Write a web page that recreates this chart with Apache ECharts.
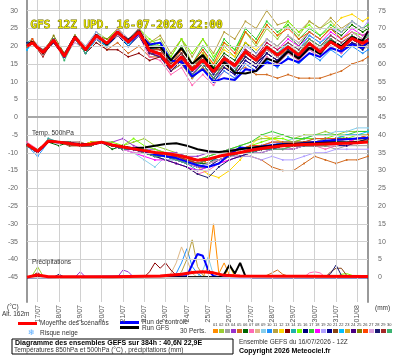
<!DOCTYPE html>
<html>
<head>
<meta charset="utf-8">
<script src="https://cdn.jsdelivr.net/npm/echarts@6/dist/echarts.min.js"></script>
<style>
html, body { margin: 0; padding: 0; background: #fff; }
#chart { width: 395px; height: 355px; }
</style>
</head>
<body>
<div id="chart"></div>
<script>
// echeances (heures depuis le run 12Z du 16/07)
const H850 = [0,6,18,30,42,54,66,78,90,102,114,126,138,150,162,174,186,198,210,222,234,246,258,270,282,294,306,318,330,342,354,366,378,384];
const H500 = [0,12,24,36,48,60,72,84,96,108,120,132,144,156,168,180,192,204,216,228,240,252,264,276,288,300,312,324,336,348,360,372,384];
const DAY_HOURS = [12,36,60,84,108,132,156,180,204,228,252,276,300,324,348,372];
const DAY_LABELS = ['17/07','18/07','19/07','20/07','21/07','22/07','23/07','24/07','25/07','26/07','27/07','28/07','29/07','30/07','31/07','01/08'];
const LEFT_TICKS = [-45,-40,-35,-30,-25,-20,-15,-10,-5,0,5,10,15,20,25,30];
const RIGHT_TICKS = [0,5,10,15,20,25,30,35,40,45,50,55,60,65,70,75];

// temperature 850hPa
const T850_MEAN = [20.0,21.0,18.2,21.7,17.2,22.5,19.0,23.0,20.8,24.0,21.2,24.0,18.8,17.8,14.0,17.0,13.3,16.1,12.8,16.5,14.5,18.4,16.0,19.8,17.5,19.8,17.5,20.8,18.4,21.2,19.4,22.2,20.8,21.7];
const T850_CTRL = [20.0,21.0,18.3,21.8,17.0,22.3,19.2,23.0,20.6,24.2,21.0,23.5,20.5,21.0,16.0,15.5,11.5,13.5,10.0,11.0,10.5,13.5,13.0,15.5,14.5,16.5,15.5,18.0,17.0,19.5,18.5,20.5,19.5,22.0];
const T850_GFS = [20.2,21.3,18.0,21.5,17.4,22.8,18.8,23.2,20.5,23.8,21.5,24.3,19.5,19.8,16.0,19.5,15.0,17.5,13.5,15.5,12.5,12.3,13.0,16.5,15.5,18.5,16.5,19.5,17.8,21.5,20.0,22.6,21.5,24.2];
const T850_PERTS = [
  [20,21,18,22,17,23,19,23,21,24,21,25,20,19,15,17,13,16,12,15,13,17,15,18,16,19,16,20,18,21,19,22,20,21],
  [20,21,19,22,18,23,20,24,22,25,22,25,21,22,17,22,15,19,14,20,17,24,20,25,22,26,23,27,25,27,24,26,24,25],
  [20,21,18,21,17,22,18,22,20,23,20,23,18,17,13,16,12,14,11,14,12,16,14,17,15,18,16,19,17,20,18,21,19,20],
  [20,21,18,22,17,22,19,23,21,25,22,25,19,18,14,17,13,15,11,14,12,16,14,18,16,19,17,20,18,21,19,22,21,22],
  [20,21,18,22,17,22,18,22,19,21,18,20,17,17,14,17,13,15,13,14,13,14,12,12,11,12,11,11,11,12,13,15,16,17],
  [20,21,18,22,18,23,19,23,21,24,22,24,20,20,16,19,15,18,14,18,16,21,18,22,20,23,20,24,22,25,23,26,24,25],
  [20,21,18,21,17,22,19,23,20,23,20,23,17,16,12,14,9,12,9,13,11,15,13,17,15,18,16,19,17,20,18,21,20,21],
  [20,22,18,22,17,23,19,23,21,24,21,24,19,18,14,18,14,17,13,17,15,19,17,20,18,21,18,22,19,22,20,23,21,22],
  [20,21,18,22,17,22,19,23,21,24,21,23,19,20,14,16,12,15,11,15,13,17,15,19,17,21,19,22,20,23,21,24,22,24],
  [19,21,18,21,17,22,18,22,20,23,20,23,18,17,13,15,11,14,10,13,11,15,13,16,14,17,15,18,16,19,17,20,18,19],
  [20,21,18,22,17,23,19,23,21,25,22,25,21,23,18,22,17,22,18,24,22,27,25,30,26,27,24,27,25,28,25,27,25,26],
  [20,21,18,22,17,22,19,23,21,24,21,24,19,18,15,18,14,18,15,19,17,21,19,22,20,23,21,24,22,25,28,29,27,28],
  [20,21,18,21,17,22,18,21,19,19,17,18,16,17,14,17,13,16,13,16,14,18,16,19,17,19,17,20,18,21,19,22,20,21],
  [21,22,18,22,18,23,19,24,21,24,21,24,19,18,14,17,13,16,12,16,14,18,16,20,17,20,18,21,19,21,19,22,21,22],
  [20,21,18,22,17,23,19,23,21,24,22,25,22,20,17,22,18,22,17,21,19,24,21,26,23,27,24,26,23,25,22,24,23,24],
  [20,21,18,22,17,22,19,22,20,23,20,23,18,18,13,16,12,15,11,15,13,17,15,18,16,19,17,20,18,21,19,22,20,21],
  [20,21,18,22,17,22,19,23,21,24,21,24,20,21,16,20,15,20,16,22,19,25,22,27,24,26,22,25,23,26,24,27,25,26],
  [20,21,18,22,17,22,19,23,21,24,22,24,19,17,14,17,12,16,12,17,15,19,17,21,19,22,20,23,21,24,22,25,23,24],
  [20,22,19,22,18,23,20,24,21,25,22,25,20,19,15,18,14,17,13,17,15,20,18,22,20,23,21,24,22,25,24,27,25,27],
  [20,21,18,22,17,22,19,23,20,24,21,24,18,17,13,15,11,14,10,14,12,16,14,18,16,19,17,20,18,21,19,21,19,21],
  [20,21,19,22,17,22,19,22,21,23,21,23,19,18,14,17,13,17,13,17,15,19,17,20,18,20,18,21,19,22,20,23,21,22],
  [19,21,18,21,17,22,18,22,20,24,20,24,19,20,15,18,13,16,12,17,14,18,16,20,18,21,19,23,21,23,21,24,22,23],
  [20,22,18,22,17,23,19,23,21,25,21,24,18,17,13,15,11,14,11,15,13,17,15,19,17,19,17,20,18,21,19,22,20,22],
  [20,21,18,21,17,22,19,22,21,24,21,23,18,17,13,16,12,15,11,15,13,17,15,19,17,20,17,21,19,22,20,22,20,21],
  [20,21,18,23,18,22,19,23,22,24,22,24,20,19,15,18,14,17,13,17,14,18,16,19,17,20,18,21,19,22,20,22,21,22],
  [20,22,18,22,17,22,19,23,21,24,21,24,19,19,15,19,15,19,15,21,18,24,21,26,23,25,22,24,22,25,22,24,22,23],
  [20,21,18,22,17,21,19,22,21,23,21,23,19,18,14,17,13,16,12,16,14,18,16,19,17,20,18,21,19,23,21,24,22,23],
  [21,21,18,22,17,22,19,23,21,24,22,24,19,18,15,18,13,16,12,16,13,17,15,18,16,19,17,20,18,21,19,21,20,21],
  [20,21,17,22,17,22,19,23,21,24,21,25,19,19,15,18,14,17,13,17,15,19,17,21,19,21,19,22,20,23,21,23,21,22],
  [20,21,18,22,16,22,18,23,20,24,21,24,19,18,14,17,12,15,11,15,13,18,16,20,18,20,18,22,20,22,20,23,21,23]
];

// temperature 500hPa
const T500_MEAN = [-7.6,-9.6,-6.7,-7.0,-7.4,-7.8,-7.6,-7.0,-7.8,-8.4,-8.9,-9.4,-9.9,-10.2,-10.6,-11.3,-12.1,-11.8,-11.0,-10.4,-9.9,-9.3,-8.8,-8.4,-8.0,-7.8,-7.7,-7.6,-7.5,-7.4,-7.3,-7.2,-7.0];
const T500_CTRL = [-7.6,-9.8,-6.8,-7.1,-7.3,-7.6,-7.5,-7.2,-7.9,-8.5,-9.0,-9.6,-10.5,-11.0,-11.5,-12.5,-13.5,-14.0,-13.0,-10.5,-8.5,-8.8,-8.2,-7.8,-7.5,-7.6,-7.3,-7.0,-6.6,-6.4,-6.2,-6.0,-5.8];
const T500_GFS = [-7.6,-9.6,-6.8,-7.0,-7.4,-7.7,-7.5,-7.0,-7.8,-8.3,-8.7,-8.5,-8.0,-7.5,-7.3,-8.0,-9.0,-9.6,-9.8,-9.5,-9.0,-8.6,-8.3,-8.0,-7.7,-7.5,-7.4,-7.3,-7.2,-7.1,-7.2,-6.9,-6.8];
const T500_PERTS = [
  [-8,-10,-7,-7,-8,-8,-7,-7,-8,-8,-9,-9,-10,-10,-11,-12,-13,-12,-11,-10,-9,-9,-8,-8,-7,-7,-7,-7,-6,-6,-7,-6,-6],
  [-8,-9,-7,-7,-7,-8,-8,-7,-8,-8,-7,-6,-8,-9,-10,-11,-12,-11,-10,-9,-8,-7,-6,-6,-5,-6,-5,-5,-4,-5,-4,-4,-4],
  [-7,-10,-6,-7,-8,-8,-8,-7,-8,-9,-9,-10,-11,-11,-12,-13,-14,-13,-12,-11,-10,-10,-9,-9,-9,-8,-8,-8,-8,-9,-8,-8,-8],
  [-8,-9,-7,-7,-7,-7,-8,-7,-7,-6,-8,-9,-9,-10,-10,-11,-11,-10,-10,-9,-9,-8,-8,-7,-7,-7,-6,-6,-6,-6,-5,-5,-5],
  [-8,-10,-7,-7,-8,-8,-8,-7,-8,-9,-9,-10,-10,-11,-11,-12,-12,-12,-12,-11,-11,-11,-12,-14,-15,-15,-13,-11,-12,-13,-12,-12,-11],
  [-8,-9,-7,-8,-7,-8,-7,-7,-9,-8,-9,-9,-10,-11,-11,-12,-13,-13,-11,-10,-10,-9,-9,-8,-8,-8,-7,-7,-7,-7,-7,-6,-6],
  [-7,-9,-7,-7,-7,-8,-8,-7,-8,-9,-10,-10,-11,-12,-13,-14,-16,-15,-13,-12,-11,-10,-9,-9,-8,-9,-8,-8,-9,-8,-8,-7,-7],
  [-8,-10,-7,-7,-7,-8,-8,-7,-8,-8,-9,-10,-10,-10,-11,-11,-12,-11,-10,-10,-9,-9,-8,-8,-8,-7,-7,-7,-7,-7,-6,-7,-6],
  [-8,-10,-7,-7,-8,-8,-8,-7,-8,-9,-10,-12,-14,-11,-11,-12,-13,-12,-11,-10,-9,-9,-8,-7,-7,-6,-6,-5,-5,-4,-4,-3,-3],
  [-8,-11,-7,-7,-7,-8,-8,-7,-8,-8,-9,-9,-10,-10,-11,-12,-13,-12,-12,-11,-10,-10,-9,-9,-8,-8,-8,-7,-7,-7,-7,-7,-7],
  [-8,-9,-7,-7,-7,-7,-8,-7,-8,-8,-9,-10,-10,-11,-12,-13,-14,-14,-13,-11,-10,-9,-9,-8,-8,-7,-7,-7,-6,-6,-6,-6,-5],
  [-8,-10,-7,-7,-7,-8,-7,-7,-8,-8,-9,-9,-10,-11,-12,-13,-14,-16,-17,-15,-12,-8,-5,-6,-7,-8,-7,-7,-8,-7,-7,-6,-7],
  [-8,-10,-7,-7,-7,-8,-8,-7,-8,-9,-9,-10,-10,-11,-11,-12,-12,-12,-11,-11,-10,-10,-9,-9,-8,-8,-8,-8,-7,-8,-7,-7,-7],
  [-8,-10,-6,-7,-7,-8,-8,-7,-8,-8,-9,-10,-11,-12,-12,-13,-15,-14,-12,-11,-10,-9,-9,-8,-8,-8,-7,-7,-7,-6,-6,-6,-6],
  [-8,-10,-7,-7,-7,-8,-8,-7,-7,-8,-6,-8,-9,-10,-11,-12,-13,-12,-11,-10,-9,-8,-7,-6,-6,-7,-6,-6,-6,-5,-6,-5,-5],
  [-8,-10,-7,-7,-7,-8,-8,-7,-8,-9,-9,-10,-11,-11,-12,-13,-14,-13,-12,-11,-11,-10,-10,-9,-9,-9,-8,-8,-8,-8,-8,-7,-7],
  [-8,-10,-7,-7,-7,-8,-8,-7,-8,-8,-9,-9,-10,-10,-11,-12,-12,-11,-10,-9,-8,-7,-5,-4,-5,-6,-6,-5,-5,-5,-5,-4,-4],
  [-8,-10,-7,-7,-7,-8,-8,-7,-8,-9,-10,-11,-12,-12,-13,-14,-15,-14,-13,-12,-11,-10,-9,-9,-8,-8,-8,-7,-7,-7,-7,-6,-6],
  [-8,-10,-7,-7,-7,-8,-8,-7,-8,-8,-9,-9,-10,-10,-11,-12,-13,-12,-11,-11,-11,-11,-12,-11,-12,-12,-11,-10,-10,-9,-9,-9,-9],
  [-8,-10,-7,-7,-7,-8,-8,-7,-8,-9,-9,-10,-10,-11,-12,-13,-13,-12,-11,-10,-10,-9,-9,-8,-8,-8,-8,-7,-7,-7,-7,-7,-7],
  [-8,-10,-7,-7,-8,-8,-8,-7,-8,-9,-9,-10,-11,-11,-12,-12,-13,-12,-11,-10,-10,-9,-9,-9,-8,-8,-8,-8,-8,-7,-7,-7,-7],
  [-8,-10,-7,-7,-7,-8,-8,-7,-8,-8,-9,-10,-10,-11,-12,-13,-14,-13,-12,-11,-10,-9,-8,-8,-7,-7,-7,-6,-6,-6,-5,-5,-4],
  [-8,-10,-7,-7,-7,-8,-8,-7,-8,-8,-9,-10,-10,-11,-11,-12,-12,-13,-12,-11,-10,-10,-9,-9,-9,-8,-8,-8,-8,-8,-7,-7,-7],
  [-8,-10,-7,-7,-7,-8,-8,-7,-8,-9,-9,-10,-11,-11,-12,-13,-14,-14,-12,-11,-10,-10,-9,-9,-8,-8,-8,-8,-7,-7,-7,-7,-7],
  [-8,-10,-7,-7,-7,-8,-8,-7,-8,-8,-9,-9,-10,-10,-11,-11,-12,-12,-11,-10,-10,-9,-9,-8,-8,-8,-7,-7,-7,-7,-7,-7,-6],
  [-8,-10,-7,-7,-7,-8,-8,-7,-8,-8,-9,-10,-10,-11,-11,-12,-13,-12,-11,-10,-9,-8,-8,-7,-7,-7,-7,-6,-6,-6,-6,-6,-5],
  [-8,-10,-7,-7,-7,-8,-8,-7,-8,-9,-10,-10,-11,-12,-12,-13,-14,-13,-12,-11,-11,-10,-10,-9,-9,-9,-8,-8,-8,-8,-7,-7,-7],
  [-8,-10,-7,-7,-7,-8,-8,-7,-8,-9,-9,-10,-11,-12,-13,-14,-16,-17,-14,-12,-11,-10,-9,-9,-8,-8,-8,-7,-7,-7,-7,-7,-6],
  [-8,-10,-7,-7,-7,-8,-8,-7,-8,-8,-9,-10,-10,-11,-11,-12,-13,-12,-11,-10,-10,-9,-9,-8,-8,-8,-7,-7,-7,-6,-6,-6,-6],
  [-8,-10,-7,-7,-7,-8,-8,-7,-8,-9,-9,-10,-11,-11,-12,-13,-13,-12,-11,-11,-10,-10,-9,-9,-9,-8,-8,-8,-8,-7,-7,-7,-7]
];

// precipitations (mm), couples [heure, mm]
const P_MEAN = [[0,0],[12,0.6],[24,0.1],[96,0.1],[150,0.3],[174,0.8],[186,1.3],[198,1.5],[210,1.2],[222,0.5],[240,0.3],[384,0.2]];
const P_CTRL = [[0,0],[180,0.3],[186,3.5],[192,6.5],[198,6.0],[204,2.0],[210,0.3],[216,0],[384,0]];
const P_GFS = [[0,0],[216,0],[222,0.8],[228,3.4],[234,1.0],[240,4.0],[246,0.2],[252,0],[384,0]];
const P_PERTS = [
  [[0,0],[198,0],[204,3],[210,15],[216,1],[222,4],[228,0.5],[234,0],[384,0]],
  [[0,0],[6,0.5],[12,2.9],[18,0.3],[24,0],[384,0]],
  [[0,0],[384,0]],
  [[0,0],[54,0],[60,1.5],[66,0],[102,0],[108,2],[114,1.5],[120,0],[384,0]],
  [[0,0],[264,0],[270,0.5],[276,1.2],[282,2],[288,0.8],[294,0.3],[300,0.3],[306,0],[384,0]],
  [[0,0],[384,0]],
  [[0,0],[312,0],[318,1.2],[324,1.5],[330,1.2],[336,0],[384,0]],
  [[0,0],[156,0],[162,1],[168,4],[174,8.5],[180,5],[186,1],[192,0],[384,0]],
  [[0,0],[192,0],[198,2],[204,5.7],[210,0.5],[216,0],[384,0]],
  [[0,0],[162,0],[168,1],[174,4],[180,8],[186,3],[192,1],[198,0],[384,0]],
  [[0,0],[168,0],[174,1.5],[180,5],[186,10.5],[192,3],[198,0.5],[204,0],[384,0]],
  [[0,0],[222,0],[228,3.4],[234,0],[384,0]],
  [[0,0],[6,0.4],[12,1.3],[18,0],[132,0],[138,1.5],[144,4],[150,2.5],[156,4],[162,2],[168,0.5],[174,0],[384,0]],
  [[0,0],[384,0]],
  [[0,0],[348,0],[354,0.8],[360,1],[366,0.5],[372,0],[384,0]],
  [[0,0],[384,0]],
  [[0,0],[384,0]],
  [[0,0],[384,0]],
  [[0,0],[384,0]],
  [[0,0],[384,0]],
  [[0,0],[336,0],[342,1.5],[348,2.5],[354,2.5],[360,0.5],[366,0],[384,0]],
  [[0,0],[384,0]],
  [[0,0],[384,0]],
  [[0,0],[384,0]],
  [[0,0],[384,0]],
  [[0,0],[384,0]],
  [[0,0],[384,0]],
  [[0,0],[30,0],[36,0.8],[42,0],[336,0],[342,1],[348,3.4],[354,0.5],[360,0],[384,0]],
  [[0,0],[384,0]],
  [[0,0],[384,0]]
];

const PERT_LABELS = ['01','02','03','04','05','06','07','08','09','10','11','12','13','14','15','16','17','18','19','20','21','22','23','24','25','26','27','28','29','30'];
const PERT_COLORS = ['#ff8c00','#9acd32','#a0a0a0','#9932cc','#d2691e','#006400','#ff69b4','#deb887','#87ceeb','#1e90ff',
                     '#b8a040','#ffd700','#8b0000','#20b2aa','#7cfc00','#000080','#32cd32','#ff00ff','#b0a0ff','#00008b',
                     '#8b4513','#00bfff','#daa520','#4b0082','#808000','#ff4500','#dda0dd','#191970','#a52a2a','#3cb371'];

function mkLine(data, color, width, yIdx, z, sym) {
  return {
    type: 'line', data: data, yAxisIndex: yIdx, z: z,
    symbol: sym ? 'circle' : 'none', symbolSize: 2,
    lineStyle: { width: width, color: color },
    itemStyle: { color: color },
    silent: true, animation: false
  };
}

const series = [];

// grille : jours et paliers de 5
series.push({
  type: 'line', data: [], z: 1, silent: true, animation: false,
  markLine: {
    silent: true, symbol: 'none', label: { show: false }, animation: false,
    lineStyle: { color: '#d0d0d0', width: 1, type: 'solid' },
    data: DAY_HOURS.map(function (h) { return { xAxis: h }; })
      .concat(LEFT_TICKS.filter(function (v) { return v !== 0; }).map(function (v) { return { yAxis: v }; }))
      .concat([{ yAxis: 0, lineStyle: { color: '#a8a8a8', width: 2 } }])
  }
});

T850_PERTS.forEach(function (d, i) {
  series.push(mkLine(H850.map(function (h, j) { return [h, d[j]]; }), PERT_COLORS[i], 1, 0, 2, true));
});
T500_PERTS.forEach(function (d, i) {
  series.push(mkLine(H500.map(function (h, j) { return [h, d[j]]; }), PERT_COLORS[i], 1, 0, 2, true));
});
P_PERTS.forEach(function (d, i) {
  series.push(mkLine(d, PERT_COLORS[i], 1, 1, 2, false));
});
series.push(mkLine(H850.map(function (h, j) { return [h, T850_CTRL[j]]; }), '#0000ff', 2, 0, 3, false));
series.push(mkLine(H500.map(function (h, j) { return [h, T500_CTRL[j]]; }), '#0000ff', 2, 0, 3, false));
series.push(mkLine(P_CTRL, '#0000ff', 2, 1, 3, false));
series.push(mkLine(H850.map(function (h, j) { return [h, T850_GFS[j]]; }), '#000000', 2, 0, 4, false));
series.push(mkLine(H500.map(function (h, j) { return [h, T500_GFS[j]]; }), '#000000', 2, 0, 4, false));
series.push(mkLine(P_GFS, '#000000', 2, 1, 4, false));
series.push(mkLine(H850.map(function (h, j) { return [h, T850_MEAN[j]]; }), '#ff0000', 3, 0, 5, false));
series.push(mkLine(H500.map(function (h, j) { return [h, T500_MEAN[j]]; }), '#ff0000', 3, 0, 5, false));
series.push(mkLine(P_MEAN, '#ff0000', 3, 1, 5, false));

const FONT = 'Liberation Sans';
const small = { fontFamily: FONT, fontSize: 6.5, fill: '#333' };
const graphics = [
  { type: 'text', left: 30, top: 19, z: 10, style: { text: 'GFS 12Z UPD. 16-07-2026 22:00', fontFamily: 'DejaVu Sans Mono', fontSize: 11, fill: '#f4f000', stroke: '#6a6a00', lineWidth: 1 } },
  { type: 'text', left: 32, top: 130, z: 10, style: Object.assign({ text: 'Temp. 500hPa' }, small) },
  { type: 'text', left: 32, top: 259, z: 10, style: Object.assign({ text: 'Précipitations' }, small) },
  { type: 'text', left: 7, top: 304, style: Object.assign({ text: '(°C)' }, small) },
  { type: 'text', left: 2, top: 311, style: Object.assign({ text: 'Alt. 162m' }, small) },
  { type: 'text', left: 375, top: 305, style: Object.assign({ text: '(mm)' }, small) },
  { type: 'rect', shape: { x: 18, y: 322, width: 19, height: 3 }, style: { fill: '#ff0000' } },
  { type: 'text', left: 40, top: 320, style: Object.assign({ text: 'Moyenne des scénarios' }, small) },
  { type: 'rect', shape: { x: 120, y: 321, width: 19, height: 3 }, style: { fill: '#0000ff' } },
  { type: 'rect', shape: { x: 120, y: 326, width: 19, height: 3 }, style: { fill: '#000000' } },
  { type: 'text', left: 142, top: 319, style: Object.assign({ text: 'Run de contrôle' }, small) },
  { type: 'text', left: 142, top: 325, style: Object.assign({ text: 'Run GFS' }, small) },
  { type: 'text', left: 28, top: 329, style: { text: '❄', fontFamily: 'DejaVu Sans', fontSize: 8, fill: '#55aaff' } },
  { type: 'text', left: 40, top: 330, style: Object.assign({ text: 'Risque neige' }, small) },
  { type: 'text', left: 180, top: 328, style: Object.assign({ text: '30 Perts.' }, small) },
  { type: 'rect', shape: { x: 12, y: 339, width: 221, height: 15 }, style: { fill: 'none', stroke: '#000', lineWidth: 1 } },
  { type: 'text', left: 15, top: 340, style: { text: 'Diagramme des ensembles GEFS sur 384h : 40,6N 22,9E', fontFamily: FONT, fontSize: 7, fontWeight: 'bold', fill: '#000' } },
  { type: 'text', left: 14, top: 347, style: Object.assign({ text: 'Températures 850hPa et 500hPa (°C) , précipitations (mm)' }, small) },
  { type: 'text', left: 239, top: 339, style: Object.assign({ text: 'Ensemble GEFS du 16/07/2026 - 12Z' }, small) },
  { type: 'text', left: 239, top: 348, style: { text: 'Copyright 2026 Meteociel.fr', fontFamily: FONT, fontSize: 7, fontWeight: 'bold', fill: '#000' } }
];
PERT_COLORS.forEach(function (c, i) {
  graphics.push({ type: 'rect', shape: { x: 213 + i * 6, y: 329, width: 5, height: 4 }, style: { fill: c } });
  graphics.push({ type: 'text', left: 213 + i * 6, top: 323, style: { text: PERT_LABELS[i], fontFamily: FONT, fontSize: 4, fill: '#333' } });
});

const chart = echarts.init(document.getElementById('chart'));
chart.setOption({
  animation: false,
  backgroundColor: '#fff',
  grid: { left: 27, right: 27, top: 0, bottom: 53 },
  xAxis: {
    type: 'value', min: 0, max: 384,
    axisLine: { lineStyle: { color: '#999', width: 2 } },
    axisTick: { show: false, customValues: DAY_HOURS },
    axisLabel: {
      customValues: DAY_HOURS, rotate: 90, fontSize: 7, fontFamily: FONT, color: '#555', margin: 3,
      formatter: function (v) { return DAY_LABELS[DAY_HOURS.indexOf(v)]; }
    },
    splitLine: { show: false }
  },
  yAxis: [
    {
      type: 'value', min: -52, max: 33, position: 'left',
      axisLine: { show: true, lineStyle: { color: '#999', width: 2 } },
      axisTick: { show: false, customValues: LEFT_TICKS },
      axisLabel: { customValues: LEFT_TICKS, fontSize: 7, fontFamily: FONT, color: '#666', margin: 9 },
      splitLine: { show: false }
    },
    {
      type: 'value', min: -7, max: 78, position: 'right',
      axisLine: { show: true, lineStyle: { color: '#999', width: 2 } },
      axisTick: { show: false, customValues: RIGHT_TICKS },
      axisLabel: { customValues: RIGHT_TICKS, fontSize: 7, fontFamily: FONT, color: '#666', margin: 10 },
      splitLine: { show: false }
    }
  ],
  graphic: graphics,
  series: series
});
</script>
</body>
</html>
